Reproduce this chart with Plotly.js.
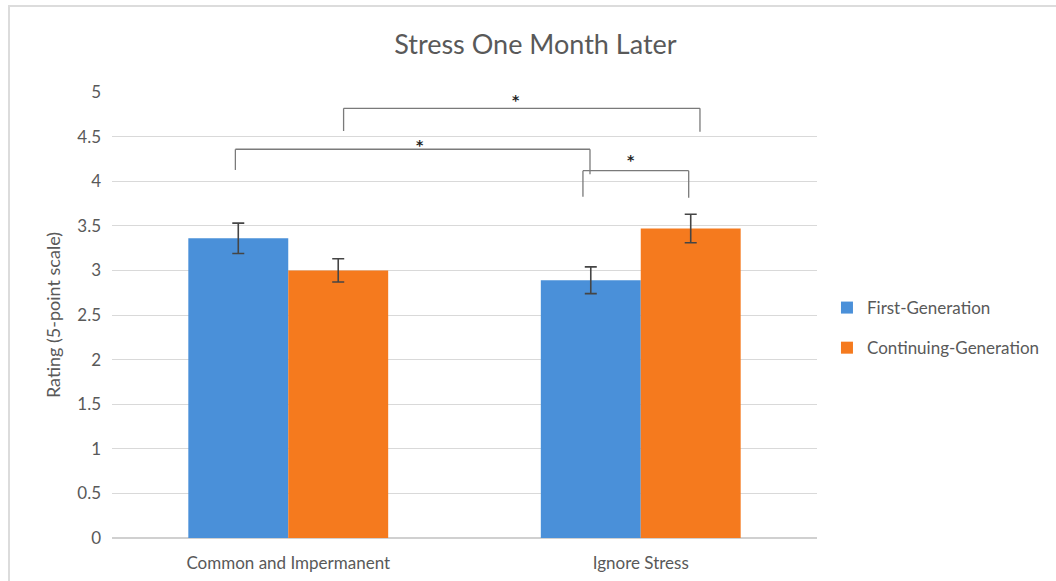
<!DOCTYPE html>
<html>
<head>
<meta charset="utf-8">
<script src="https://cdn.plot.ly/plotly-3.0.1.min.js"></script>
<style>
  html, body { margin: 0; padding: 0; background: #fff; }
  #wrap { position: relative; width: 1056px; height: 581px; overflow: hidden; }
  #chart { position: absolute; left: 0; top: 0; width: 1056px; height: 581px; }
  .frame-top { position: absolute; left: 8px; top: 5px; width: 1048px; height: 2px; background: #dcdcdc; }
  .frame-left { position: absolute; left: 8px; top: 5px; width: 2px; height: 576px; background: #dcdcdc; }
</style>
</head>
<body>
<div id="wrap">
  <div id="chart"></div>
  <div class="frame-top"></div>
  <div class="frame-left"></div>
</div>
<script>
// Mean stress ratings one month later, by condition and student group
const conditions = ["Common and Impermanent", "Ignore Stress"];
const firstGen = [3.36, 2.89];
const firstGenErr = [0.17, 0.15];
const continuingGen = [3.00, 3.47];
const continuingGenErr = [0.13, 0.16];
const yTicks = [0, 0.5, 1, 1.5, 2, 2.5, 3, 3.5, 4, 4.5, 5];

// Significance brackets:
// [left x, right x, bar y, left leg bottom, right leg bottom, star x, star y, label]
// x values are category indices (0 = first condition, 1 = second)
const brackets = [
  [0.157, 1.168, 4.817, 4.563, 4.555, 0.646, 4.963, "*"],
  [-0.150, 0.856, 4.358, 4.126, 4.077, 0.375, 4.462, "*"],
  [0.836, 1.136, 4.118, 3.825, 3.815, 0.972, 4.294, "*"]
];

const textColor = "#595959";
const fontFamily = "Lato, 'Open Sans', sans-serif";

const errStyle = { type: "data", visible: true, color: "#454545", thickness: 1.6, width: 6 };

const traces = [
  {
    type: "bar", name: "First-Generation", x: conditions, y: firstGen,
    marker: { color: "#4A90D9" },
    error_y: Object.assign({ array: firstGenErr }, errStyle),
    legendgroup: "a", hoverinfo: "skip"
  },
  {
    type: "bar", name: "Continuing-Generation", x: conditions, y: continuingGen,
    marker: { color: "#F57A1E" },
    error_y: Object.assign({ array: continuingGenErr }, errStyle),
    legendgroup: "b", hoverinfo: "skip"
  }
];

const shapes = [];
const annotations = [];
const lineStyle = { color: "#7a7a7a", width: 1.3 };
brackets.forEach(b => {
  const [x0, x1, yb, yl, yr, sx, sy, label] = b;
  shapes.push({ type: "line", xref: "x", yref: "y", x0: x0, x1: x1, y0: yb, y1: yb, line: lineStyle });
  shapes.push({ type: "line", xref: "x", yref: "y", x0: x0, x1: x0, y0: yb, y1: yl, line: lineStyle });
  shapes.push({ type: "line", xref: "x", yref: "y", x0: x1, x1: x1, y0: yb, y1: yr, line: lineStyle });
  annotations.push({
    xref: "x", yref: "y", x: sx, y: sy, yshift: -5,
    text: "<b>" + label + "</b>", showarrow: false,
    font: { family: "'DejaVu Sans', sans-serif", size: 14, color: "#222" }
  });
});

const layout = {
  width: 1056, height: 581,
  margin: { l: 112, r: 238, t: 92, b: 43 },
  paper_bgcolor: "rgba(0,0,0,0)", plot_bgcolor: "#fff",
  font: { family: fontFamily, color: textColor, size: 17 },
  title: {
    text: "Stress One Month Later",
    font: { family: fontFamily, size: 27, color: textColor },
    x: 0.507, xanchor: "center", y: 0.924, yanchor: "middle"
  },
  barmode: "group", bargap: 0.433, bargroupgap: 0,
  xaxis: {
    type: "category", range: [-0.5, 1.5],
    showgrid: false, showline: false, zeroline: false, ticks: "",
    tickfont: { family: fontFamily, size: 17, color: textColor },
    ticklabelstandoff: 13
  },
  yaxis: {
    range: [0, 5], tickvals: yTicks, ticktext: yTicks.map(String),
    showgrid: true, gridcolor: "#d9d9d9", gridwidth: 1,
    zeroline: true, zerolinecolor: "#d0d0d0", zerolinewidth: 1.5,
    showline: false, ticks: "",
    tickfont: { family: fontFamily, size: 17, color: textColor },
    ticklabelstandoff: 10,
    title: { text: "Rating (5-point scale)", font: { family: fontFamily, size: 18, color: textColor }, standoff: 11 }
  },
  legend: {
    x: 1.0127, xanchor: "left", y: 0.556, yanchor: "top",
    font: { family: fontFamily, size: 17, color: textColor },
    tracegroupgap: 15, itemclick: false, itemdoubleclick: false
  },
  shapes: shapes,
  annotations: annotations
};

Plotly.newPlot("chart", traces, layout, { displayModeBar: false, staticPlot: true });
</script>
</body>
</html>
